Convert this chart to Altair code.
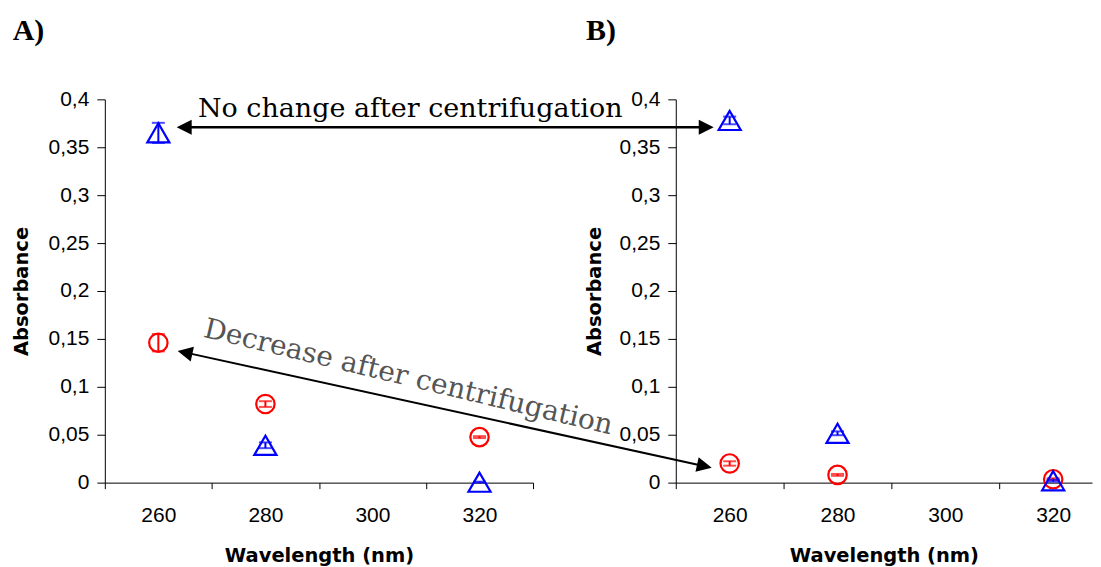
import altair as alt
import pandas as pd

# ---- data ----
wavelengths = [260, 280, 320]

a_circle = [0.146, 0.082, 0.0475]
a_circle_err = [0.009, 0.003, 0.001]
a_triangle = [0.365, 0.039, 0.0005]
a_triangle_err = [0.0105, 0.003, 0.0005]

b_circle = [0.020, 0.0081, 0.0036]
b_circle_err = [0.0023, 0.001, 0.001]
b_triangle = [0.378, 0.0515, 0.002]
b_triangle_err = [0.004, 0.002, 0.001]

y_ticks = [0, 0.05, 0.1, 0.15, 0.2, 0.25, 0.3, 0.35, 0.4]
x_ticks = [250, 260, 270, 280, 290, 300, 310, 320, 330]

RED = "#FF0000"
BLUE = "#0000FF"
ARROW = "M0,0L0.5,1L-0.5,1Z"


def make_df(vals, errs):
    return pd.DataFrame({
        "wl": wavelengths,
        "absorb": vals,
        "lo": [v - e for v, e in zip(vals, errs)],
        "hi": [v + e for v, e in zip(vals, errs)],
    })


def one():
    return alt.Chart(alt.Data(values=[{}]))


def panel(circ, circ_err, tri, tri_err, xmax, width, title_x, label):
    xs = alt.Scale(domain=[250, xmax], nice=False, zero=False)
    ys = alt.Scale(domain=[0, 0.4], nice=False)
    xaxis = alt.Axis(
        values=[v for v in x_ticks if v <= xmax],
        labelExpr="(datum.value - 260) % 20 == 0 ? datum.value : ''",
        tickOpacity={"condition": {"test": "(datum.value - 250) % 20 == 0", "value": 1}, "value": 0},
        title="Wavelength (nm)", titleY=79.5, titleBaseline="alphabetic",
        labelBaseline="alphabetic", labelPadding=33, tickSize=6, grid=False,
    )
    yaxis = alt.Axis(
        values=y_ticks,
        labelExpr="replace(format(datum.value, '~g'), '.', ',')",
        title="Absorbance", titleX=title_x, titleBaseline="alphabetic",
        tickSize=8, labelPadding=8, grid=False,
    )
    layers = []
    for vals, errs, color, shape, size in [
        (circ, circ_err, RED, "circle", 340),
        (tri, tri_err, BLUE, "triangle-up", 490),
    ]:
        base = alt.Chart(make_df(vals, errs))
        layers.append(base.mark_rule(color=color, strokeWidth=2).encode(
            x=alt.X("wl:Q", scale=xs, axis=xaxis),
            y=alt.Y("lo:Q", scale=ys, axis=yaxis), y2="hi:Q"))
        for f in ["lo", "hi"]:
            layers.append(base.mark_tick(orient="horizontal", color=color, size=13, thickness=2).encode(
                x=alt.X("wl:Q", scale=xs, axis=xaxis),
                y=alt.Y(f + ":Q", scale=ys, axis=yaxis)))
        layers.append(base.mark_point(shape=shape, size=size, filled=False, color=color,
                                      strokeWidth=2.2, opacity=1).encode(
            x=alt.X("wl:Q", scale=xs, axis=xaxis),
            y=alt.Y("absorb:Q", scale=ys, axis=yaxis)))
    # panel label
    layers.append(one().mark_text(font="Liberation Serif", fontWeight="bold", fontSize=30,
                                  align="left", baseline="alphabetic", color="black").encode(
        x=alt.value(-92.3 if label == "A)" else -90), y=alt.value(-59), text=alt.value(label)))
    return alt.layer(*layers).properties(width=width, height=384)


pa = panel(a_circle, a_circle_err, a_triangle, a_triangle_err, 330, 429, -77.3, "A)")
pb = panel(b_circle, b_circle_err, b_triangle, b_triangle_err, 327.2, 417, -75.3, "B)")

# annotations (drawn in panel A's frame, spilling over to panel B)
ann = []
ann.append(one().mark_rule(color="black", strokeWidth=2.5).encode(
    x=alt.value(80), x2=alt.value(602), y=alt.value(28)))
ann.append(one().mark_rule(color="black", strokeWidth=2).encode(
    x=alt.value(80), x2=alt.value(601), y=alt.value(253.5), y2=alt.value(367.5)))
for xx, yy, ang in [(72, 28, 270), (610, 28, 90), (73, 252, 282.3), (608, 369, 102.3)]:
    ann.append(one().mark_point(shape=ARROW, size=900, filled=True, color="black",
                                opacity=1, angle=ang, strokeWidth=0).encode(
        x=alt.value(xx), y=alt.value(yy)))
ann.append(one().mark_text(font="DejaVu Serif", fontSize=27, align="center",
                           baseline="alphabetic", color="black").encode(
    x=alt.value(306), y=alt.value(18), text=alt.value("No change after centrifugation")))
ann.append(one().mark_text(font="DejaVu Serif", fontSize=28, align="center",
                           baseline="middle", color="#555555", angle=13.5).encode(
    x=alt.value(304), y=alt.value(279), text=alt.value("Decrease after centrifugation")))
# layout anchor (invisible) fixing the top-left of the drawing
ann.append(one().mark_point(size=1, opacity=0, strokeWidth=0).encode(
    x=alt.value(-95.5), y=alt.value(-89.5)))

pa = alt.layer(pa, *ann)

chart = alt.hconcat(pa, pb, spacing=143, bounds="flush").properties(
    padding={"left": 0, "top": 0, "right": 0, "bottom": 0}
).configure_view(stroke="transparent").configure_axis(
    domainColor="black", tickColor="black", labelColor="black", titleColor="black",
    labelFont="Liberation Sans", labelFontSize=21,
    titleFont="DejaVu Sans", titleFontSize=19.5, titleFontWeight="bold",
    domainWidth=1, tickWidth=1,
)

chart.save("out.html", embed_options={"renderer": "svg", "actions": False})
